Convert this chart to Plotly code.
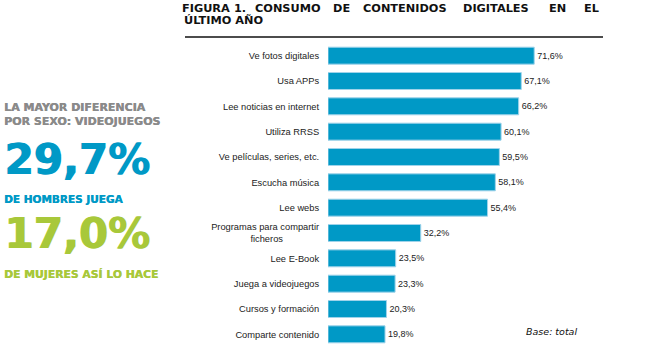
import plotly.graph_objects as go

categories = ["Ve fotos digitales", "Usa APPs", "Lee noticias en internet", "Utiliza RRSS",
              "Ve películas, series, etc.", "Escucha música", "Lee webs",
              "Programas para compartir<br>ficheros" + "\u00a0" * 14,
              "Lee E-Book", "Juega a videojuegos", "Cursos y formación", "Comparte contenido"]
values = [71.6, 67.1, 66.2, 60.1, 59.5, 58.1, 55.4, 32.2, 23.5, 23.3, 20.3, 19.8]

title_words = ["FIGURA", "1.", "CONSUMO", "DE", "CONTENIDOS", "DIGITALES", "EN", "EL"]
title_word_cx = [205.5, 240, 288, 341.5, 404.5, 495.5, 557, 591]
title_line2 = "ÚLTIMO AÑO"

W, H = 669, 360
ML, MR, MT, MB = 328, 53, 43, 13
PW, PH = W - ML - MR, H - MT - MB


def px(x):
    return (x - ML) / PW


def py(y):
    return (H - MB - y) / PH


BLUE = "#0099c6"
GREEN = "#a8c83a"
GRAY = "#8a8a8a"

fig = go.Figure(go.Bar(
    x=values, y=categories, orientation="h",
    marker=dict(color=BLUE, line=dict(color="#9fd3ea", width=1)),
    text=values, texttemplate="%{x:.1f}%", textposition="outside",
    textfont=dict(family="Liberation Sans, Arial", size=9, color="#222222"),
    cliponaxis=False, hoverinfo="skip"
))

ann = []
# title
for w, x in zip(title_words, title_word_cx):
    ann.append(dict(text=w, x=px(x), y=py(8), xref="paper", yref="paper",
                    xanchor="center", yanchor="middle", showarrow=False,
                    font=dict(family="DejaVu Sans", size=11.3, color="#111111", weight="bold")))
ann.append(dict(text=title_line2, x=px(182), y=py(21), xref="paper", yref="paper",
                xanchor="left", yanchor="middle", showarrow=False,
                font=dict(family="DejaVu Sans", size=11.3, color="#111111", weight="bold")))

left_items = [
    ("LA MAYOR DIFERENCIA", 107.5, 11, GRAY, 0.4),
    ("POR SEXO: VIDEOJUEGOS", 121.5, 11, GRAY, 0.4),
    ("29,7%", 159, 42, BLUE, 1.2),
    ("DE HOMBRES JUEGA", 198.5, 10.5, BLUE, 0.4),
    ("17,0%", 233, 42, GREEN, 1.2),
    ("DE MUJERES ASÍ LO HACE", 274, 10.8, GREEN, 0.4),
]
for t, y, s, c, sh in left_items:
    ann.append(dict(text=t, x=px(2), y=py(y), xref="paper", yref="paper",
                    xanchor="left", yanchor="middle", showarrow=False,
                    font=dict(family="DejaVu Sans", size=s, color=c, weight="bold",
                              shadow=f"{sh}px 0px 0px {c}")))

ann.append(dict(text="<i>Base: total</i>", x=px(524), y=py(331), xref="paper", yref="paper",
                xanchor="left", yanchor="middle", showarrow=False,
                font=dict(family="DejaVu Sans", size=9.5, color="#111111")))

fig.update_layout(
    width=W, height=H, autosize=False,
    margin=dict(l=ML, r=MR, t=MT, b=MB, pad=0),
    paper_bgcolor="white", plot_bgcolor="white",
    separators=",.",
    bargap=0.33,
    showlegend=False,
    annotations=ann,
    shapes=[dict(type="line", xref="paper", yref="paper", x0=px(185), x1=px(603),
                 y0=py(37), y1=py(37), line=dict(color="#111111", width=1.3))],
    xaxis=dict(range=[0, 100], visible=False, fixedrange=True),
    yaxis=dict(autorange="reversed", showline=False, showgrid=False, zeroline=False,
               ticks="outside", ticklen=6, tickcolor="rgba(0,0,0,0)",
               tickfont=dict(family="Liberation Sans, Arial", size=9.3, color="#222222"),
               fixedrange=True),
)

fig.write_html("out.html", config={"displayModeBar": False},
               post_script="document.body.style.margin='0';document.body.style.overflow='hidden';")
